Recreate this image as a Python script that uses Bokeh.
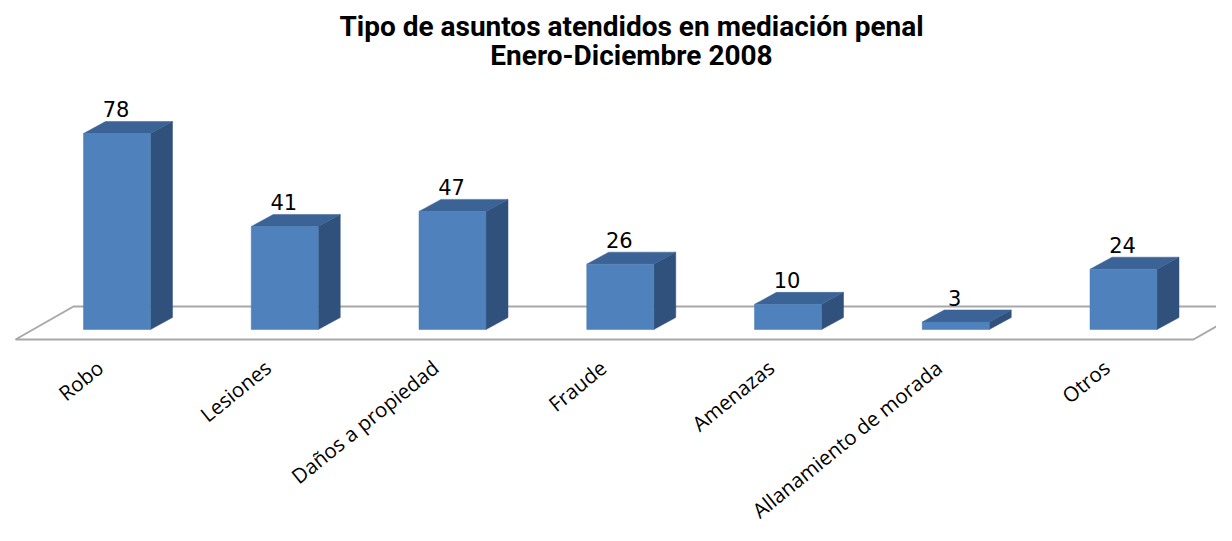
from bokeh.plotting import figure
from bokeh.models import ColumnDataSource, Label, Range1d
from bokeh.core.properties import value
from bokeh.embed import file_html
from bokeh.resources import INLINE

# ---- data ----
categories = ["Robo", "Lesiones", "Daños a propiedad", "Fraude", "Amenazas",
              "Allanamiento de morada", "Otros"]
counts = [78, 41, 47, 26, 10, 3, 24]
title_lines = ["Tipo de asuntos atendidos en mediación penal", "Enero-Diciembre 2008"]

# ---- layout constants (pixels) ----
W, H = 1216, 525
SLOT_PX = 167.75         # px per category
YPX = 2.513              # px per unit of value
BASE_PY = 329            # px from top where value 0 sits
FIRST_CENTER_PX = 116.5  # px from left of first bar centre

x0 = 0.5 - FIRST_CENTER_PX / SLOT_PX
x1 = x0 + W / SLOT_PX
y1 = BASE_PY / YPX
y0 = -(H - BASE_PY) / YPX

half_w = 33.5 / SLOT_PX
dx = 22 / SLOT_PX
dy = 12 / YPX

p = figure(width=W, height=H, output_backend="svg", toolbar_location=None,
           x_range=Range1d(x0, x1), y_range=Range1d(y0, y1),
           min_border=0, outline_line_color=None)
p.axis.visible = False
p.grid.visible = False
p.background_fill_color = "white"
p.border_fill_color = "white"

# ---- floor (parallelogram) ----
f_front = -10 / YPX
f_back = 23 / YPX
fl_x = x0 + 15 / SLOT_PX
bl_x = fl_x + 58 / SLOT_PX
fr_x = x0 + 1193 / SLOT_PX
br_x = fr_x + 58 / SLOT_PX
p.patch([fl_x, bl_x, br_x, fr_x], [f_front, f_back, f_back, f_front],
        fill_color="white", line_color="#A8A8A8", line_width=2)

# ---- bars ----
xs_c = [i + 0.5 for i in range(len(categories))]
front_src = ColumnDataSource(dict(
    left=[c - half_w for c in xs_c], right=[c + half_w for c in xs_c],
    top=counts, bottom=[0] * len(counts)))

top_xs, top_ys, side_xs, side_ys = [], [], [], []
for c, v in zip(xs_c, counts):
    l, r = c - half_w, c + half_w
    top_xs.append([l, r, r + dx, l + dx])
    top_ys.append([v, v, v + dy, v + dy])
    side_xs.append([r, r + dx, r + dx, r])
    side_ys.append([0, dy, v + dy, v])

p.patches(side_xs, side_ys, fill_color="#30517C", line_color="#30517C", line_width=0.5)
p.patches(top_xs, top_ys, fill_color="#3B6395", line_color="#3B6395", line_width=0.5)
p.quad(left="left", right="right", top="top", bottom="bottom", source=front_src,
       fill_color="#4F81BD", line_color="#4A7AB5", line_width=0.5)

# ---- value labels ----
p.text(x=xs_c, y=[v + dy for v in counts], text=[str(v) for v in counts],
       text_font=value("DejaVu Sans"), text_font_size="21px", text_color="#000000",
       text_align="center", text_baseline="alphabetic", x_offset=-1, y_offset=-12)

# ---- category labels ----
p.text(x=xs_c, y=[0] * len(xs_c), text=categories,
       text_font=value("Open Sans"), text_font_size="20.5px", text_color="#000000",
       text_align="right", text_baseline="middle", angle=0.68,
       x_offset=-17, y_offset=35)

# ---- title ----
for i, t in enumerate(title_lines):
    p.add_layout(Label(x=631, y=H - 26 - i * 29, x_units="screen", y_units="screen",
                       text=t, text_font="Roboto", text_font_style="bold",
                       text_font_size="28px", text_align="center",
                       text_baseline="alphabetic", text_color="#000000"))

open("out.html", "w").write(file_html(p, INLINE))
